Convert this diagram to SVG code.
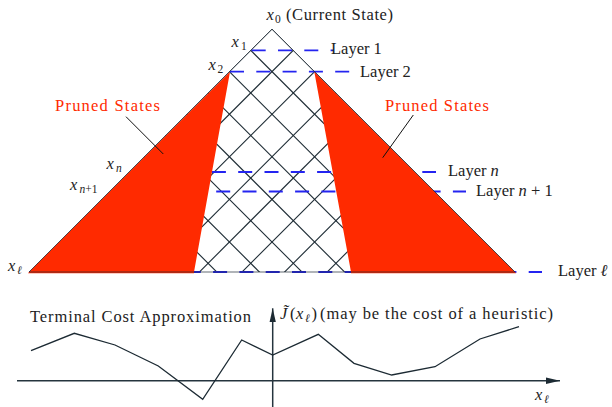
<svg xmlns="http://www.w3.org/2000/svg" width="612" height="407" viewBox="0 0 612 407">
<style>
.t{font-size:16.5px;fill:#222}
.it{font-style:italic}
.sub{font-size:11.5px}
.red{fill:#ff2a00}
.grid line{stroke:#1c2a33;stroke-width:1.1}
.dash{stroke:#2424f0;stroke-width:1.8;stroke-dasharray:14 12.3;fill:none}
.ax{stroke:#25343e;stroke-width:1.5;fill:none}
.ptr{stroke:#111;stroke-width:1}
</style>
<defs>
<clipPath id="tri"><polygon points="272,29 515,272 29,272"/></clipPath>
<marker id="ah" viewBox="0 0 14 8" refX="14" refY="4" markerWidth="14" markerHeight="8" markerUnits="userSpaceOnUse" orient="auto"><path d="M0,0.8 L14,4 L0,7.2 Z" fill="#1c2a33"/></marker>
</defs>
<rect width="612" height="407" fill="#fff"/>
<g id="grid" class="grid" clip-path="url(#tri)">
<line x1="243" y1="0" x2="543" y2="300"/><line x1="200.4" y1="0" x2="500.4" y2="300"/><line x1="157.8" y1="0" x2="457.8" y2="300"/><line x1="115.2" y1="0" x2="415.2" y2="300"/><line x1="72.6" y1="0" x2="372.6" y2="300"/><line x1="30" y1="0" x2="330" y2="300"/><line x1="-12.6" y1="0" x2="287.4" y2="300"/><line x1="-55.2" y1="0" x2="244.8" y2="300"/><line x1="-97.8" y1="0" x2="202.2" y2="300"/><line x1="-140.4" y1="0" x2="159.6" y2="300"/><line x1="-183" y1="0" x2="117" y2="300"/><line x1="-225.6" y1="0" x2="74.4" y2="300"/>
<line x1="301" y1="0" x2="1" y2="300"/><line x1="343.6" y1="0" x2="43.6" y2="300"/><line x1="386.2" y1="0" x2="86.2" y2="300"/><line x1="428.8" y1="0" x2="128.8" y2="300"/><line x1="471.4" y1="0" x2="171.4" y2="300"/><line x1="514" y1="0" x2="214" y2="300"/><line x1="556.6" y1="0" x2="256.6" y2="300"/><line x1="599.2" y1="0" x2="299.2" y2="300"/><line x1="641.8" y1="0" x2="341.8" y2="300"/><line x1="684.4" y1="0" x2="384.4" y2="300"/><line x1="727" y1="0" x2="427" y2="300"/><line x1="769.6" y1="0" x2="469.6" y2="300"/>
</g>
<g id="layers">
<line class="dash" x1="251.7" y1="50.3" x2="334" y2="50.3"/>
<line class="dash" x1="230" y1="71.7" x2="350" y2="71.7"/>
<line class="dash" x1="133" y1="172" x2="436" y2="172"/>
<line class="dash" x1="111" y1="191.5" x2="466" y2="191.5"/>
<line class="dash" x1="29" y1="272" x2="542" y2="272"/>
</g>
<g id="pruned-left"><polygon class="red" points="230,71.7 194,272 194,273.2 28,273.2 29,272"/></g>
<g id="pruned-right"><polygon class="red" points="314.3,71.7 515,272 516,273.2 351,273.2 351,272"/></g>
<polygon id="outline" points="272,29 515,272 29,272" fill="none" stroke="#1c2a33" stroke-width="0.7"/>
<g id="labels">
<text font-family="Liberation Serif" class="t it" x="266.5" y="19.5">x</text><text font-family="Liberation Serif" class="t sub" x="275" y="22.5">0</text>
<text font-family="Liberation Serif" class="t" x="286" y="19.5" textLength="107">(Current State)</text>
<text font-family="Liberation Serif" class="t it" x="231.5" y="46.5">x</text><text font-family="Liberation Serif" class="t sub" x="241" y="49.5">1</text>
<text font-family="Liberation Serif" class="t it" x="208.5" y="70">x</text><text font-family="Liberation Serif" class="t sub" x="217.5" y="73">2</text>
<text font-family="Liberation Serif" class="t it" x="106.5" y="168.5">x</text><text font-family="Liberation Serif" class="t sub it" x="116" y="171.5">n</text>
<text font-family="Liberation Serif" class="t it" x="70" y="190">x</text><text font-family="Liberation Serif" class="t sub" x="79.5" y="193"><tspan class="it">n</tspan>+1</text>
<text font-family="Liberation Serif" class="t it" x="8" y="271">x</text><text font-family="Liberation Serif" class="t sub it" x="17" y="274">ℓ</text>
<text font-family="Liberation Serif" class="t" x="331" y="54">Layer 1</text>
<text font-family="Liberation Serif" class="t" x="360" y="76.5">Layer 2</text>
<text font-family="Liberation Serif" class="t" x="448" y="175.5">Layer <tspan class="it">n</tspan></text>
<text font-family="Liberation Serif" class="t" x="476" y="195.5">Layer <tspan class="it">n</tspan> + 1</text>
<text font-family="Liberation Serif" class="t" x="558" y="276">Layer <tspan class="it">ℓ</tspan></text>
<text font-family="Liberation Serif" class="t red" x="55" y="111" textLength="105">Pruned States</text>
<text font-family="Liberation Serif" class="t red" x="385" y="111" textLength="104">Pruned States</text>
</g>
<g id="pointers">
<line class="ptr" x1="126" y1="116.7" x2="163.3" y2="154"/>
<line class="ptr" x1="413.3" y1="115" x2="382.7" y2="157.7"/>
</g>
<g id="cost-plot">
<line class="ax" x1="17" y1="380.7" x2="560" y2="380.7" marker-end="url(#ah)"/>
<line class="ax" x1="272.7" y1="407" x2="272.7" y2="308.3" marker-end="url(#ah)"/>
<polyline fill="none" stroke="#1c2a33" stroke-width="1.3" points="31,350.7 74.3,333.3 115,345 158.3,366 202.7,399.3 241.7,340 272.7,355 318.3,334.3 354,363.3 391.7,375 435,366.7 480,339 519,326.7"/>
<text font-family="Liberation Serif" class="t" x="30" y="322.3" textLength="221">Terminal Cost Approximation</text>
<text font-family="Liberation Serif" class="t it" x="280" y="318.5">J̃</text>
<text font-family="Liberation Serif" class="t" x="290" y="318.5">(</text><text font-family="Liberation Serif" class="t it" x="296" y="318.5">x</text><text font-family="Liberation Serif" class="t sub it" x="305" y="321.5">ℓ</text><text font-family="Liberation Serif" class="t" x="311.5" y="318.5">)</text>
<text font-family="Liberation Serif" class="t" x="320" y="318.5" textLength="233">(may be the cost of a heuristic)</text>
<text font-family="Liberation Serif" class="t it" x="535" y="400">x</text><text font-family="Liberation Serif" class="t sub it" x="544" y="403">ℓ</text>
</g>
</svg>
